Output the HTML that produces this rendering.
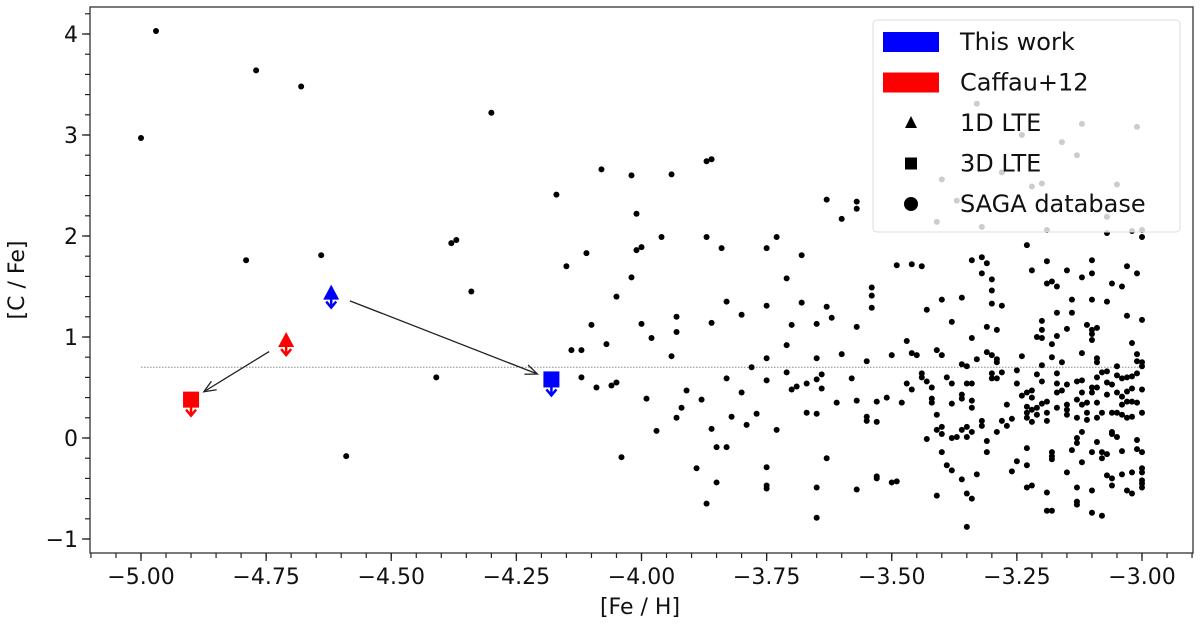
<!DOCTYPE html>
<html><head><meta charset="utf-8"><style>
body{margin:0;background:#fff}
svg{display:block;font-family:"DejaVu Sans","Liberation Sans",sans-serif}
</style></head><body>
<svg id="chart" width="1200" height="627" viewBox="0 0 1200 627" xmlns="http://www.w3.org/2000/svg">
<g id="grid"></g>
<g id="dots"></g>
<g id="marks"></g>
<g id="axes"></g>
<g id="legend"></g>
</svg>
<script>
const sagaFeH=[-5.00,-4.97,-4.77,-4.68,-4.79,-4.64,-4.38,-4.37,-4.34,-4.30,-4.41,-4.59,-4.17,-4.15,-4.12,
-4.08,-4.02,-3.94,-3.87,-3.86,-4.01,-3.96,-3.87,-3.73,-3.75,-3.84,-4.01,-4.00,-4.11,-3.68,-3.63,-3.57,-3.57,-3.60,-4.02,-4.05,-3.71,-3.83,-3.75,-3.68,-3.63,-3.54,-3.54,-3.54,-4.10,-4.00,-3.93,-3.93,-3.86,-3.80,-3.70,-3.65,-3.62,-3.57,-4.07,-3.98,-4.14,-3.94,-3.71,-3.75,-3.65,-3.60,-3.55,-3.78,-3.71,-3.64,-4.12,-4.09,-4.06,-4.05,-3.83,-3.75,-3.65,-3.58,-3.70,-3.69,-3.67,-3.64,-3.91,-3.80,-3.99,-3.88,-3.61,-3.57,-3.53,-3.92,-3.93,-3.82,-3.77,-3.67,-3.65,-3.55,-3.55,-3.53,-3.79,-3.97,-3.86,-3.73,-3.85,-3.83,-4.04,-3.63,-3.89,-3.75,-3.53,-3.53,-3.85,-3.75,-3.75,-3.65,-3.57,-3.87,-3.65,
-3.33,-3.24,-3.12,-3.01,-3.16,-3.13,-3.40,-3.22,-3.20,-3.05,-3.28,-3.37,-3.41,-3.32,-3.19,-3.07,-3.02,-3.00,
-3.07,-3.00,-3.23,-3.49,-3.46,-3.44,-3.34,-3.32,-3.31,-3.32,-3.30,-3.30,-3.30,-3.28,-3.22,-3.19,-3.15,-3.10,-3.12,-3.10,-3.03,-3.01,-3.19,-3.18,-3.17,-3.06,-3.04,-3.40,-3.36,-3.43,-3.14,-3.10,-3.07,-3.17,-3.14,-3.38,-3.20,-3.20,-3.21,-3.20,-3.17,-3.15,-3.18,-3.11,-3.10,-3.09,-3.10,-3.10,-3.03,-3.00,-3.31,-3.29,-3.34,-3.47,-3.41,-3.40,-3.46,-3.45,-3.50,-3.33,-3.31,-3.30,-3.29,-3.29,-3.24,-3.18,-3.16,-3.12,-3.09,-3.09,-3.02,-3.01,-3.01,-3.00,-3.00,-3.36,-3.35,-3.20,-3.05,-3.25,-3.25,-3.30,-3.30,-3.29,-3.28,-3.44,-3.44,-3.43,-3.42,-3.39,-3.38,-3.35,-3.34,-3.47,-3.46,-3.21,-3.20,-3.17,-3.17,-3.15,-3.13,-3.12,-3.09,-3.08,-3.07,-3.07,-3.06,-3.05,-3.04,-3.03,-3.02,-3.01,-3.00,-3.24,-3.23,-3.22,-3.22,-3.17,-3.16,-3.12,-3.10,-3.09,-3.10,-3.07,-3.05,-3.04,-3.03,-3.02,-3.51,-3.48,-3.42,-3.42,-3.36,-3.36,-3.34,-3.34,-3.38,-3.27,-3.20,-3.19,-3.17,-3.15,-3.15,-3.13,-3.12,-3.11,-3.09,-3.04,-3.03,-3.02,-3.01,-3.23,-3.23,-3.22,-3.21,-3.41,-3.23,-3.22,-3.21,-3.19,-3.19,-3.15,-3.13,-3.11,-3.11,-3.09,-3.08,-3.06,-3.05,-3.04,-3.03,-3.02,-3.00,-3.32,-3.32,-3.28,-3.27,-3.26,-3.41,-3.40,-3.40,-3.36,-3.35,-3.34,-3.35,-3.38,-3.37,-3.43,-3.29,-3.12,-3.13,-3.13,-3.14,-3.09,-3.06,-3.06,-3.05,-3.01,-3.01,-3.00,-3.31,-3.31,-3.40,-3.23,-3.18,-3.18,-3.18,-3.12,-3.10,-3.08,-3.08,-3.07,-3.04,-3.25,-3.23,-3.39,-3.38,-3.33,-3.26,-3.15,-3.07,-3.06,-3.04,-3.02,-3.00,-3.00,-3.00,-3.00,-3.00,-3.50,-3.49,-3.36,-3.23,-3.22,-3.19,-3.13,-3.10,-3.06,-3.03,-3.02,-3.41,-3.35,-3.34,-3.13,-3.13,-3.19,-3.18,-3.10,-3.08,-3.35];
const sagaCFe=[2.97,4.03,3.64,3.48,1.76,1.81,1.93,1.96,1.45,3.22,0.60,-0.18,2.41,1.70,0.87,
2.66,2.60,2.61,2.74,2.76,2.22,1.99,1.99,1.99,1.88,1.88,1.86,1.89,1.83,1.81,2.36,2.34,2.27,2.17,1.59,1.40,1.58,1.35,1.31,1.34,1.30,1.49,1.41,1.29,1.12,1.13,1.20,1.05,1.14,1.22,1.12,1.13,1.19,1.10,0.93,0.99,0.87,0.81,0.92,0.79,0.79,0.83,0.76,0.70,0.65,0.63,0.60,0.50,0.52,0.55,0.59,0.57,0.58,0.59,0.48,0.51,0.54,0.49,0.47,0.45,0.39,0.38,0.35,0.37,0.36,0.30,0.20,0.21,0.24,0.25,0.24,0.21,0.17,0.16,0.13,0.07,0.09,0.08,-0.09,-0.09,-0.19,-0.20,-0.30,-0.29,-0.38,-0.40,-0.44,-0.47,-0.50,-0.49,-0.51,-0.65,-0.79,
3.31,3.00,3.11,3.08,2.93,2.80,2.56,2.49,2.52,2.51,2.63,2.35,2.14,2.09,2.06,2.19,2.05,2.06,
2.03,1.99,1.91,1.71,1.72,1.70,1.76,1.79,1.73,1.63,1.57,1.46,1.33,1.31,1.66,1.75,1.66,1.76,1.59,1.63,1.70,1.63,1.53,1.55,1.50,1.53,1.50,1.37,1.39,1.27,1.37,1.37,1.35,1.24,1.24,1.15,1.16,1.07,1.00,0.99,1.01,1.08,0.93,1.12,1.07,1.09,1.03,0.97,1.21,1.17,1.10,1.07,0.99,0.96,0.87,0.82,0.84,0.82,0.82,0.78,0.85,0.82,0.78,0.75,0.81,0.80,0.75,0.84,0.79,0.75,0.94,0.83,0.76,0.75,0.71,0.73,0.71,0.72,0.71,0.67,0.54,0.64,0.59,0.59,0.65,0.64,0.60,0.56,0.50,0.60,0.54,0.54,0.54,0.54,0.48,0.63,0.56,0.64,0.54,0.53,0.56,0.57,0.60,0.65,0.66,0.55,0.53,0.62,0.59,0.60,0.61,0.64,0.48,0.42,0.45,0.47,0.40,0.45,0.47,0.45,0.50,0.50,0.45,0.43,0.45,0.41,0.46,0.49,0.40,0.35,0.39,0.35,0.43,0.39,0.37,0.30,0.34,0.33,0.34,0.36,0.30,0.33,0.28,0.38,0.33,0.35,0.35,0.33,0.36,0.36,0.35,0.31,0.25,0.28,0.30,0.23,0.20,0.16,0.23,0.25,0.17,0.23,0.20,0.25,0.18,0.20,0.25,0.25,0.25,0.23,0.20,0.21,0.25,0.17,0.12,0.17,0.12,0.19,0.08,0.11,0.04,0.08,0.11,0.06,0.01,0.00,0.01,-0.01,0.06,0.06,0.00,-0.05,-0.12,-0.04,0.06,0.04,0.01,-0.02,-0.11,-0.14,-0.03,-0.14,-0.14,-0.10,-0.14,-0.18,-0.21,-0.24,-0.14,-0.14,-0.20,-0.16,-0.13,-0.23,-0.27,-0.27,-0.32,-0.36,-0.33,-0.34,-0.37,-0.40,-0.36,-0.34,-0.30,-0.34,-0.42,-0.45,-0.49,-0.44,-0.43,-0.41,-0.49,-0.47,-0.54,-0.49,-0.52,-0.47,-0.52,-0.55,-0.57,-0.55,-0.60,-0.63,-0.66,-0.72,-0.72,-0.74,-0.77,-0.88];
const starFeH1D=[-4.62,-4.71];
const starCFe1D=[1.43,0.96];
const starFeH3D=[-4.18,-4.90];
const starCFe3D=[0.58,0.38];
const starColors=["#0000ff","#ff0000"];
const xTicks=[-5.00,-4.75,-4.50,-4.25,-4.00,-3.75,-3.50,-3.25,-3.00];
const xTickLabels=["\u22125.00","\u22124.75","\u22124.50","\u22124.25","\u22124.00","\u22123.75","\u22123.50","\u22123.25","\u22123.00"];
const yTicks=[-1,0,1,2,3,4];
const yTickLabels=["\u22121","0","1","2","3","4"];
const refLine=0.7;

const NS="http://www.w3.org/2000/svg";
const L=90,R=1193,T=7,B=553;
const X=v=>141+(v+5)*500.5;
const Y=v=>438-v*101;
function mk(tag,attrs,parent){const e=document.createElementNS(NS,tag);for(const k in attrs)e.setAttribute(k,attrs[k]);parent.appendChild(e);return e;}
const grid=document.getElementById('grid'),dots=document.getElementById('dots'),marks=document.getElementById('marks'),axes=document.getElementById('axes'),leg=document.getElementById('legend');

let rl=mk('line',{x1:X(-5),x2:X(-3),y1:Y(refLine),y2:Y(refLine),stroke:'#888','stroke-width':1,'stroke-dasharray':'1.5,1.5'},grid);



for(let i=0;i<sagaFeH.length;i++){
 const c=mk('circle',{cx:X(sagaFeH[i]),cy:Y(sagaCFe[i]),r:3,fill:'#000'},dots);
 
 
}
function arrowDown(x,y,col){
 mk('line',{x1:x,x2:x,y1:y,y2:y+12,stroke:col,'stroke-width':2.5},marks);
 mk('path',{d:`M${x-5},${y+8} L${x},${y+14} L${x+5},${y+8}`,fill:'none',stroke:col,'stroke-width':2.5},marks);
}
for(let i=0;i<2;i++){
 const x1=X(starFeH1D[i]),y1=Y(starCFe1D[i]),x3=X(starFeH3D[i]),y3=Y(starCFe3D[i]),col=starColors[i];
 const dx=x3-x1,dy=y3-y1,len=Math.hypot(dx,dy),ux=dx/len,uy=dy/len;
 const sx=x1+ux*20,sy=y1+uy*20,ex=x3-ux*15,ey=y3-uy*15;
 mk('line',{x1:sx,y1:sy,x2:ex,y2:ey,stroke:'#222','stroke-width':1.3},marks);
 const px=-uy,py=ux;
 const a=mk('path',{d:`M${ex-ux*12+px*5},${ey-uy*12+py*5} L${ex},${ey} L${ex-ux*12-px*5},${ey-uy*12-py*5}`,fill:'none',stroke:'#222','stroke-width':1.3},marks);
 
 
 arrowDown(x1,y1,col);
 const t=mk('path',{d:`M${x1},${y1-9} L${x1+8},${y1+6} L${x1-8},${y1+6} Z`,fill:col},marks);
 
 
 arrowDown(x3,y3+2,col);
 const s=mk('rect',{x:x3-8,y:y3-8,width:16,height:16,fill:col},marks);
 
 
}
let fr=mk('rect',{x:L,y:T,width:R-L,height:B-T,fill:'none',stroke:'#333','stroke-width':1.3},axes);


for(let v=-5.15;v<=-2.85;v+=0.05){const x=X(v);if(x<L||x>R)continue;mk('line',{x1:x,x2:x,y1:B,y2:B+5,stroke:'#222','stroke-width':1.2},axes);}
xTicks.forEach((v,i)=>{const x=X(v);mk('line',{x1:x,x2:x,y1:B,y2:B+8,stroke:'#222','stroke-width':1.3},axes);
 const t=mk('text',{x:x,y:B+31,'font-size':22,'text-anchor':'middle',fill:'#111'},axes);t.textContent=xTickLabels[i];
 
 });
for(let v=-1.2;v<=4.3;v+=0.2){const y=Y(v);if(y<T||y>B)continue;mk('line',{x1:L,x2:L-5,y1:y,y2:y,stroke:'#222','stroke-width':1.2},axes);}
yTicks.forEach((v,i)=>{const y=Y(v);mk('line',{x1:L,x2:L-8,y1:y,y2:y,stroke:'#222','stroke-width':1.3},axes);
 const t=mk('text',{x:L-12,y:y+8,'font-size':22,'text-anchor':'end',fill:'#111'},axes);t.textContent=yTickLabels[i];
 
 });
let xt=mk('text',{x:640,y:614,'font-size':22,'text-anchor':'middle',fill:'#111'},axes);xt.textContent='[Fe / H]';


let yt=mk('text',{x:24,y:280,'font-size':22,'text-anchor':'middle',fill:'#111',transform:'rotate(-90 24 280)'},axes);yt.textContent='[C / Fe]';


mk('rect',{x:873,y:20,width:307,height:212,rx:4,fill:'#fff','fill-opacity':0.8,stroke:'#ddd','stroke-width':1},leg);
const legItems=[["This work","patch","#0000ff"],["Caffau+12","patch","#ff0000"],["1D LTE","tri","#000"],["3D LTE","sq","#000"],["SAGA database","circ","#000"]];
legItems.forEach((it,i)=>{const cy=42+i*40.5;
 const g=mk('g',{},leg);
 
 
 if(it[1]=='patch')mk('rect',{x:883,y:cy-10,width:56,height:20,fill:it[2]},g);
 else if(it[1]=='tri')mk('path',{d:`M911,${cy-7} L917,${cy+5} L905,${cy+5} Z`,fill:'#000'},g);
 else if(it[1]=='sq')mk('rect',{x:905,y:cy-6,width:12,height:12,fill:'#000'},g);
 else mk('circle',{cx:911,cy:cy,r:7,fill:'#000'},g);
 const t=mk('text',{x:960,y:cy+8,'font-size':24,fill:'#111'},g);t.textContent=it[0];});
</script>
</body></html>
